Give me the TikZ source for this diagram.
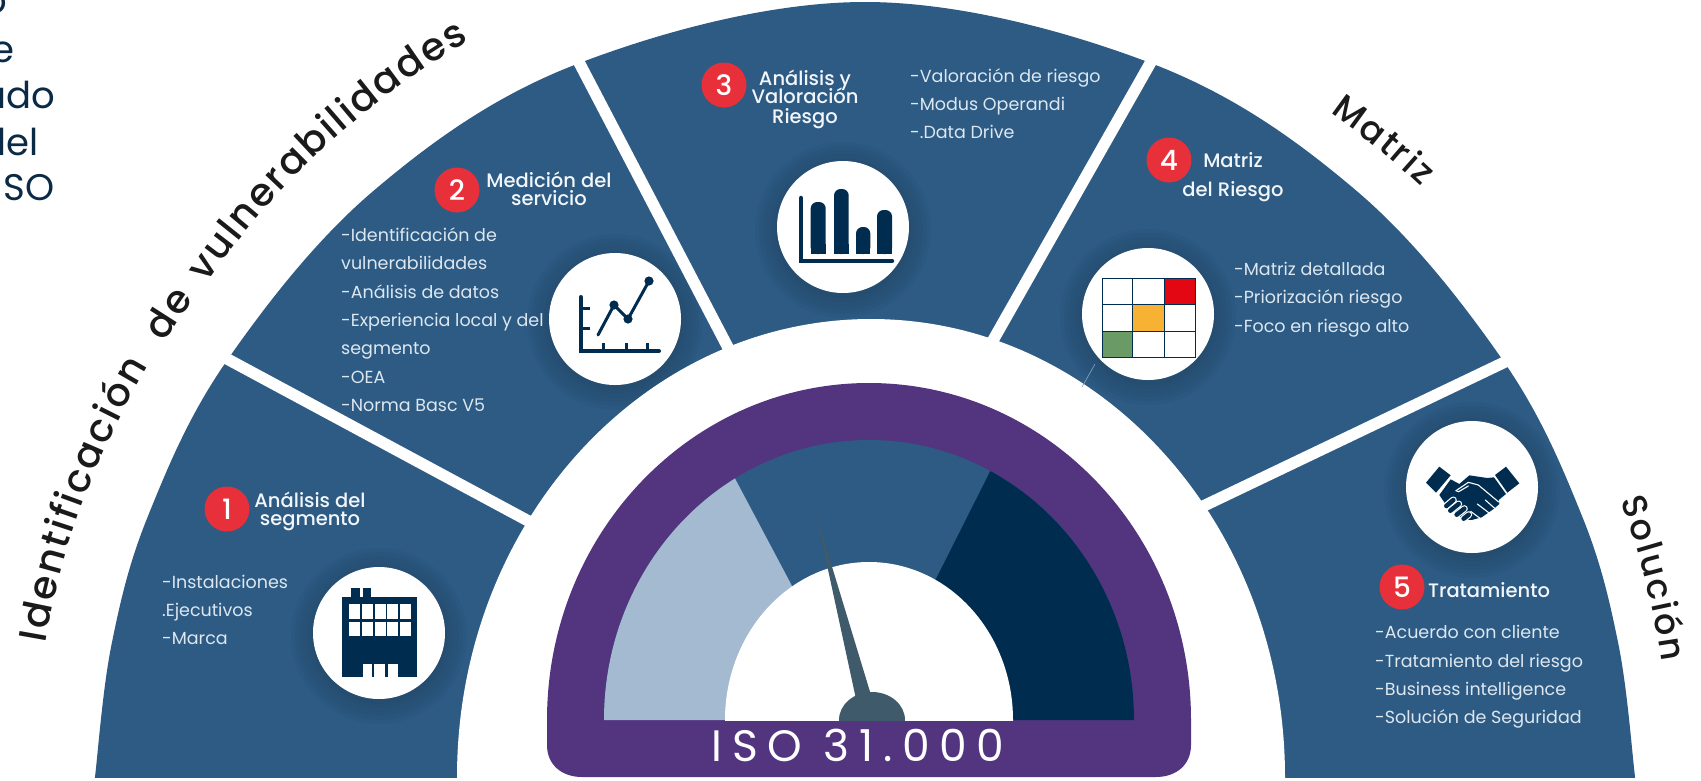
\documentclass[tikz,border=0pt]{standalone}
\usepackage{fontspec}
\setmainfont{Poppins}
\newfontfamily\headf{Poppins Medium}
\newfontfamily\isof[LetterSpace=22]{Poppins}
\usetikzlibrary{decorations.text}
\definecolor{sector}{HTML}{2D5B84}
\definecolor{purp}{HTML}{52357E}
\definecolor{lightb}{HTML}{A3BAD0}
\definecolor{navy}{HTML}{002D4F}
\definecolor{hubc}{HTML}{3F5A6B}
\definecolor{redc}{HTML}{E8303A}
\definecolor{bodyc}{HTML}{DDE7F0}
\definecolor{headc}{HTML}{F2F6FA}
\definecolor{sidec}{HTML}{0B2A45}
\definecolor{curvec}{HTML}{1A1A1A}
\definecolor{mred}{HTML}{E30613}
\definecolor{morange}{HTML}{F7B233}
\definecolor{mgreen}{HTML}{6A9B66}
\tikzset{
  bodytxt/.style={anchor=base west,inner sep=0pt,text=bodyc,font=\fontsize{17.5}{20}\selectfont},
  headtxt/.style={anchor=base,inner sep=0pt,text=headc,font=\headf\fontsize{19.5}{22}\selectfont},
  sidetxt/.style={anchor=base east,inner sep=0pt,text=sidec,font=\fontsize{37}{40}\selectfont},
  badge/.style={circle,fill=redc,text=white,minimum size=45pt,inner sep=0pt,font=\headf\fontsize{28}{30}\selectfont},
  gaplin/.style={draw=white,line width=11.5pt},
  iconcirc/.style={circle,fill=white,minimum size=132pt,inner sep=0pt},
  curved/.style={decorate,decoration={text along path,text align=fit to path,text={|\color{curvec}\headf\fontsize{39}{42}\selectfont|#1}}},
  curvedsm/.style={decorate,decoration={text along path,text align=fit to path,text={|\color{curvec}\headf\fontsize{35}{38}\selectfont|#1}}}
}
\newcommand{\softshadow}[2]{%
  \foreach \rr in {88,84,80,76,72,68}{\fill[black,fill opacity=.022] (#1,#2+3) circle[radius=\rr pt];}%
}
\begin{document}
\begin{tikzpicture}[x=1pt,y=-1pt]
\useasboundingbox (0,0) rectangle (1701,780);
\fill[white] (0,0) rectangle (1701,780);
\clip (0,0) rectangle (1701,780);
% fan
\begin{scope}
  \clip (0,0) rectangle (1701,777);
  \fill[sector] plot[smooth,tension=.6] coordinates {(93,800) (95,777) (111.6,644.2) (148,516) (226,362) (373.3,191) (577,64) (865,2) (1153,64) (1356.7,191) (1504,362) (1582,516) (1618.4,644.2) (1635,777) (1637,800)} -- cycle;
  \softshadow{379}{633}\softshadow{615}{319}\softshadow{843}{227}\softshadow{1148}{314}\softshadow{1472}{487}
\end{scope}
% gaps
\coordinate (g1o) at (205,347); \coordinate (g1i) at (560,538);
\coordinate (g2o) at (570,45);  \coordinate (g2i) at (745,380);
\coordinate (g3o) at (1160,46); \coordinate (g3i) at (975,372);
\coordinate (g4o) at (1530,350);\coordinate (g4i) at (1170,522);
\draw[gaplin] (g1o)--(g1i);
\draw[gaplin] (g2o)--(g2i);
\draw[gaplin] (g3o)--(g3i);
\draw[gaplin] (g4o)--(g4i);
% inner white
\fill[white] (871,777) ellipse[x radius=414pt,y radius=458pt];
\draw[sector!55!white,line width=.6pt] (1082,387)--(1095,364);
% gauge
\fill[purp] (547,720) .. controls (547,534) and (691,383) .. (869,383)
   .. controls (1047,383) and (1191,534) .. (1191,720)
   -- (1191,745) .. controls (1191,765) and (1176,777) .. (1156,777)
   -- (582,777) .. controls (562,777) and (547,765) .. (547,745) -- cycle;
\begin{scope}
  \clip (604,720) .. controls (604,565) and (723,440) .. (869,440)
   .. controls (1015,440) and (1134,565) .. (1134,720) -- cycle;
  \fill[sector] (590,430) rectangle (1150,720);
  \fill[lightb] (590,720) -- (590,400) -- (713,437) -- (791,584) -- (850,720) -- cycle;
  \fill[navy] (1010,432) -- (880,690) -- (880,720) -- (1150,720) -- (1150,432) -- cycle;
\end{scope}
\begin{scope}
  \clip (500,380) rectangle (1200,720);
  \fill[white] (869,720) ellipse[x radius=144pt,y radius=158pt];
  \fill[hubc] (872,720) ellipse[x radius=33pt,y radius=28pt];
\end{scope}
\fill[hubc] (816,514) -- (856,699) -- (871,695) -- cycle;
\node[anchor=base,inner sep=0pt,text=white,font=\isof\fontsize{44}{46}\selectfont] (iso) at (858,761) {ISO 31.000};
% curved titles
\path[curved={Identificación}] (45.4,643) arc[start angle=170.5,end angle=149.6,x radius=831pt,y radius=812pt];
\path[curved={de}] (164.5,342.8) arc[start angle=148.3,end angle=144.6,radius=824pt];
\path[curved={vulnerabilidades}] (206.4,283.8) arc[start angle=144.2,end angle=119.2,x radius=812pt,y radius=843pt];
\path[curvedsm={Matriz}] (1330.2,112.7) arc[start angle=55,end angle=46.7,radius=811pt];
\path[curvedsm={Solución}] (1620.9,500.3) arc[start angle=20.1,end angle=8.2,radius=805pt];
% cropped text at left
\node[sidetxt] (s1) at (7,13) {o};
\node[sidetxt] (s2) at (15,62) {e};
\node[sidetxt] (s3) at (55,108) {ado};
\node[sidetxt] (s4) at (39,155) {del};
\node[sidetxt] (s5) at (55,200) {SO};
% icon circles
\node[iconcirc] (c1) at (379,633) {};
\node[iconcirc] (c2) at (615,319) {};
\node[iconcirc] (c3) at (843,227) {};
\node[iconcirc] (c4) at (1148,314) {};
\node[iconcirc] (c5) at (1472,487) {};
% building
\fill[navy] (342,597) rectangle (417,677);
\fill[navy] (350.5,588) rectangle (359.5,597);
\fill[navy] (362.5,588) rectangle (371,597);
\foreach \wy in {604,621.5}{\foreach \wx in {349,362,374.5,387,399.5}{\fill[white] (\wx,\wy) rectangle +(11,14.5);}}
\fill[white] (363,663.5) rectangle (397.5,677);
\fill[navy] (371.5,663.5) rectangle (374,677);
\fill[navy] (384.5,663.5) rectangle (387.5,677);
% chart icon
\begin{scope}[navy,line width=4pt,line cap=round]
  \draw (580.7,297)--(580.7,351)--(659,351);
  \draw[line width=3pt,line cap=butt] (580.7,308)--(590,308) (580.7,328)--(590,328) (603,351)--(603,343) (626,351)--(626,343) (647,351)--(647,343);
  \draw[line width=3pt] (598,335)--(614,305)--(628,319)--(649,281);
  \fill (614,305) circle[radius=4.6pt] (628,319) circle[radius=4.6pt] (649,281) circle[radius=4.6pt];
\end{scope}
% bar icon
\begin{scope}[navy]
  \draw[line width=4.5pt,line cap=round] (801,198)--(801,261)--(892,261);
  \foreach \xa/\xb/\ty in {810.7/825.7/202,834/848.7/189,856/870.3/227,877/892/210}{
    \fill[rounded corners=6.5pt] (\xa,254) -- (\xa,\ty) -- (\xb,\ty) -- (\xb,254) -- cycle;
    \fill (\xa,244) rectangle (\xb,254);
  }
\end{scope}
% matrix icon
\fill[mred] (1164.3,278.7) rectangle (1195.7,304.7);
\fill[morange] (1132.7,304.7) rectangle (1164.3,331.3);
\fill[mgreen] (1102.3,331.3) rectangle (1132.7,357.3);
\draw[navy,line width=1.5pt] (1102.3,278.7) rectangle (1195.7,357.3)
  (1132.7,278.7)--(1132.7,357.3) (1164.3,278.7)--(1164.3,357.3)
  (1102.3,304.7)--(1195.7,304.7) (1102.3,331.3)--(1195.7,331.3);
% handshake
\begin{scope}[shift={(1400,440)},x=.3333pt,y=-.3333pt]
  \fill[navy] (118,80)--(152,106)--(108,158)--(78,128)--cycle;
  \fill[navy] (318,80)--(358,130)--(322,158)--(285,105)--cycle;
  \fill[navy] (152,118)--(178,132)--(208,106)--(262,114)--(282,112)--(318,162)--(296,180)--(298,192)--(282,206)--(268,216)--(245,232)--(215,240)--(190,238)--(135,190)--(118,165)--cycle;
  \draw[white,line width=1.1pt,line cap=round,line join=round] (168,152)--(205,127)--(235,135)--(296,186);
  \draw[white,line width=1.1pt,line cap=round] (168,152)--(176,155)--(205,138) (256,180)--(284,205) (232,192)--(266,218) (212,214)--(240,235);
  \foreach \ax/\ay/\bx/\by in {139/198/160/180,151/212/176/192,170/224/193/206,191/236/206/224}{
    \draw[white,line width=7pt,line cap=round] (\ax,\ay)--(\bx,\by);
    \draw[navy,line width=4.6pt,line cap=round] (\ax,\ay)--(\bx,\by);
  }
\end{scope}
% badges
\node[badge] (b1) at (227,509) {1};
\node[badge] (b2) at (457,190) {2};
\node[badge] (b3) at (724,85) {3};
\node[badge] (b4) at (1169,160) {4};
\node[badge] (b5) at (1402,587) {5};
% headings
\node[headtxt] (h1a) at (310,507) {Análisis del};
\node[headtxt] (h1b) at (310,525) {segmento};
\node[headtxt] (h2a) at (549,187) {Medición del};
\node[headtxt] (h2b) at (549,205) {servicio};
\node[headtxt] (h3a) at (805,85) {Análisis y};
\node[headtxt] (h3b) at (805,103.5) {Valoración};
\node[headtxt] (h3c) at (805,123) {Riesgo};
\node[headtxt] (h4a) at (1233,167) {Matriz};
\node[headtxt] (h4b) at (1233,196) {del Riesgo};
\node[headtxt] (h5a) at (1489,597) {Tratamiento};
% bodies
\node[bodytxt] (t1a) at (162,588) {-Instalaciones};
\node[bodytxt] (t1b) at (162,616) {.Ejecutivos};
\node[bodytxt] (t1c) at (162,644) {-Marca};
\node[bodytxt] (t2a) at (341,241) {-Identificación de};
\node[bodytxt] (t2b) at (341,269) {vulnerabilidades};
\node[bodytxt] (t2c) at (341,298) {-Análisis de datos};
\node[bodytxt] (t2d) at (341,326) {-Experiencia local y del};
\node[bodytxt] (t2e) at (341,354) {segmento};
\node[bodytxt] (t2f) at (341,383) {-OEA};
\node[bodytxt] (t2g) at (341,411) {-Norma Basc V5};
\node[bodytxt] (t3a) at (910,82) {-Valoración de riesgo};
\node[bodytxt] (t3b) at (910,110) {-Modus Operandi};
\node[bodytxt] (t3c) at (910,138) {-.Data Drive};
\node[bodytxt] (t4a) at (1234,275) {-Matriz detallada};
\node[bodytxt] (t4b) at (1234,303) {-Priorización riesgo};
\node[bodytxt] (t4c) at (1234,332) {-Foco en riesgo alto};
\node[bodytxt] (t5a) at (1375,638) {-Acuerdo con cliente};
\node[bodytxt] (t5b) at (1375,667) {-Tratamiento del riesgo};
\node[bodytxt] (t5c) at (1375,695) {-Business intelligence};
\node[bodytxt] (t5d) at (1375,723) {-Solución de Seguridad};
\end{tikzpicture}
\end{document}
